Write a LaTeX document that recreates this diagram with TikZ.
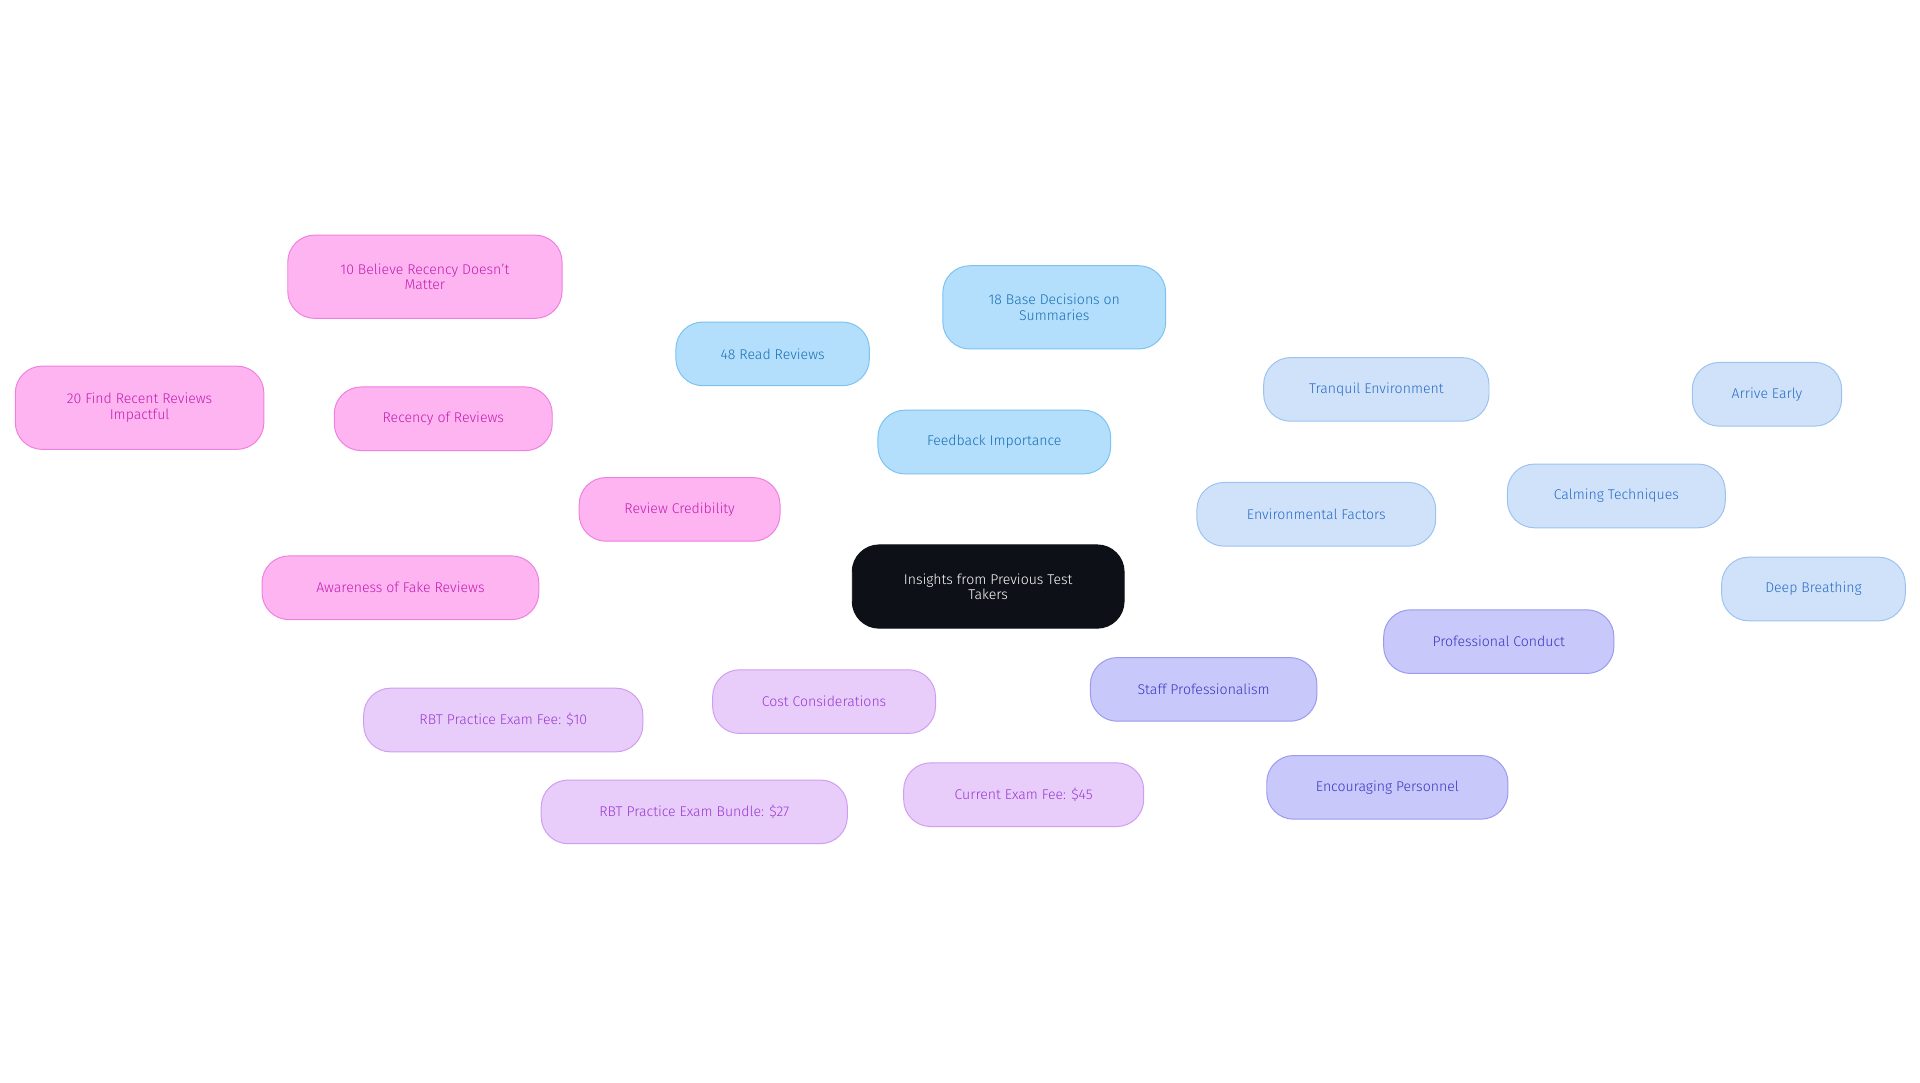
\documentclass[tikz,border=0pt]{standalone}
\usepackage{fontspec}
\setmainfont{Fira Sans Light}[BoldFont=Fira Sans]
\usetikzlibrary{backgrounds}
\definecolor{bF}{HTML}{B3DFFC}\definecolor{bD}{HTML}{7CC3F2}\definecolor{bT}{HTML}{1A6FB5}
\definecolor{eF}{HTML}{CFE2FA}\definecolor{eD}{HTML}{9CC3F0}\definecolor{eT}{HTML}{2A6CC4}
\definecolor{sF}{HTML}{C8C8FA}\definecolor{sD}{HTML}{9A9AF0}\definecolor{sT}{HTML}{3A36C0}
\definecolor{cF}{HTML}{E8CDFA}\definecolor{cD}{HTML}{CF9EF0}\definecolor{cT}{HTML}{9A3AD0}
\definecolor{rF}{HTML}{FDB4F0}\definecolor{rD}{HTML}{F080E0}\definecolor{rT}{HTML}{C020B0}
\definecolor{root}{HTML}{0D1117}
\tikzset{
 box/.style={rounded corners=22pt,draw,line width=0.8pt,align=center,inner sep=0pt,font=\fontsize{11.5}{12.5}\selectfont},
 fb/.style={box,fill=bF,draw=bD,text=bT}, fbl/.style={draw=bD,line width=1.6pt},
 en/.style={box,fill=eF,draw=eD,text=eT}, enl/.style={draw=eD,line width=1.6pt},
 st/.style={box,fill=sF,draw=sD,text=sT}, stl/.style={draw=sD,line width=1.6pt},
 co/.style={box,fill=cF,draw=cD,text=cT}, col/.style={draw=cD,line width=1.6pt},
 rc/.style={box,fill=rF,draw=rD,text=rT}, rcl/.style={draw=rD,line width=1.6pt},
}
\newcommand{\bx}[6]{\node[#1,minimum width=#4pt,minimum height=#5pt] (#2) at #3 {#6};}
\begin{document}
\begin{tikzpicture}[x=1pt,y=-1pt]
\useasboundingbox[fill=white] (0,0) rectangle (1568,884);
\node[box,fill=root,draw=root,text=white,minimum width=222pt,minimum height=68pt] (R) at (807,479) {Insights from Previous Test\\Takers};
\bx{fb}{F}{(812,361)}{190}{52}{Feedback Importance}
\bx{fb}{F1}{(631,289)}{158}{52}{48 Read Reviews}
\bx{fb}{F2}{(861,251)}{182}{68}{18 Base Decisions on\\Summaries}
\bx{en}{E}{(1075,420)}{195}{52}{Environmental Factors}
\bx{en}{E1}{(1124,318)}{184}{52}{Tranquil Environment}
\bx{en}{E2}{(1320,405)}{178}{52}{Calming Techniques}
\bx{en}{E3}{(1443,322)}{122}{52}{Arrive Early}
\bx{en}{E4}{(1481,481)}{150}{52}{Deep Breathing}
\bx{st}{S}{(983,563)}{185}{52}{Staff Professionalism}
\bx{st}{S1}{(1224,524)}{188}{52}{Professional Conduct}
\bx{st}{S2}{(1133,643)}{197}{52}{Encouraging Personnel}
\bx{co}{C}{(673,573)}{182}{52}{Cost Considerations}
\bx{co}{C1}{(411,588)}{228}{52}{RBT Practice Exam Fee: \$10}
\bx{co}{C2}{(567,663)}{250}{52}{RBT Practice Exam Bundle: \$27}
\bx{co}{C3}{(836,649)}{196}{52}{Current Exam Fee: \$45}
\bx{rc}{V}{(555,416)}{164}{52}{Review Credibility}
\bx{rc}{V1}{(362,342)}{178}{52}{Recency of Reviews}
\bx{rc}{V2}{(327,480)}{226}{52}{Awareness of Fake Reviews}
\bx{rc}{V3}{(347,226)}{224}{68}{10 Believe Recency Doesn't\\Matter}
\bx{rc}{V4}{(114,333)}{203}{68}{20 Find Recent Reviews\\Impactful}
\begin{pgfonlayer}{background}
\draw[fbl] (R.center)--(F.center) (F.center)--(F1.center) (F.center)--(F2.center);
\draw[enl] (R.center)--(E.center) (E.center)--(E1.center) (E.center)--(E2.center) (E2.center)--(E3.center) (E2.center)--(E4.center);
\draw[stl] (R.center)--(S.center) (S.center)--(S1.center) (S.center)--(S2.center);
\draw[col] (R.center)--(C.center) (C.center)--(C1.center) (C.center)--(C2.center) (C.center)--(C3.center);
\draw[rcl] (R.center)--(V.center) (V.center)--(V1.center) (V.center)--(V2.center) (V1.center)--(V3.center) (V1.center)--(V4.center);
\end{pgfonlayer}
\end{tikzpicture}
\end{document}
